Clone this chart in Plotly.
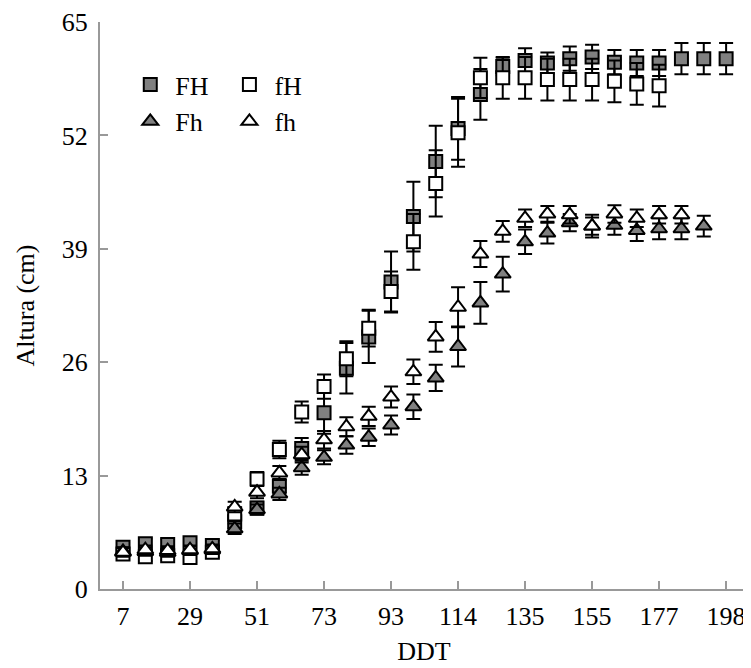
import plotly.graph_objects as go

# sample index along the DDT axis (28 sampling dates); ticks every third sample
sample_idx = list(range(28))
tick_idx = [0, 3, 6, 9, 12, 15, 18, 21, 24, 27]
ddt_ticks = ["7", "29", "51", "73", "93", "114", "135", "155", "177", "198"]

FH = [4.8, 5.2, 5.1, 5.3, 5.0, 7.7, 9.3, 11.8, 16.1, 20.2, 25.3, 28.9, 35.2, 42.7,
      49.0, 52.8, 56.7, 59.9, 60.6, 60.3, 60.8, 61.0, 60.4, 60.3, 60.3, 60.8, 60.8, 60.8]
FH_err = [0.6, 0.6, 0.6, 0.6, 0.6, 0.8, 0.7, 0.8, 1.2, 2.4, 2.9, 3.0, 3.5, 4.0,
          4.1, 3.6, 2.9, 1.0, 1.4, 1.2, 1.4, 1.4, 1.4, 1.5, 1.5, 1.8, 1.8, 1.8]

fH = [4.0, 3.7, 3.8, 3.6, 4.2, 8.6, 12.6, 16.0, 20.3, 23.2, 26.4, 29.9, 34.1, 39.8,
      46.5, 52.3, 58.6, 58.6, 58.6, 58.4, 58.4, 58.4, 58.2, 57.9, 57.7, None, None, None]
fH_err = [0.5, 0.5, 0.5, 0.5, 0.5, 0.8, 0.8, 1.0, 1.2, 1.4, 2.0, 2.1, 2.3, 3.2,
          3.8, 3.9, 2.3, 2.4, 2.4, 2.4, 2.4, 2.4, 2.4, 2.4, 2.4, None, None, None]

Fh = [4.3, 4.3, 4.2, 4.4, 4.5, 6.9, 9.1, 10.9, 13.9, 15.1, 16.5, 17.4, 18.8, 20.9,
      24.2, 27.8, 32.8, 36.1, 39.8, 40.8, 42.0, 41.6, 41.7, 41.1, 41.3, 41.3, 41.6, None]
Fh_err = [0.5, 0.5, 0.5, 0.5, 0.5, 0.6, 0.6, 0.7, 0.8, 0.8, 1.0, 1.0, 1.1, 1.4,
          1.5, 2.3, 2.4, 2.0, 1.4, 1.2, 1.0, 1.0, 1.1, 1.2, 1.2, 1.2, 1.2, None]

fh = [4.2, 4.5, 4.4, 4.5, 4.6, 9.4, 11.1, 13.3, 15.4, 17.1, 18.6, 19.8, 22.0, 24.9,
      28.9, 32.3, 38.4, 41.0, 42.5, 43.0, 42.9, 41.6, 43.0, 42.5, 42.9, 42.9, None, None]
fh_err = [0.5, 0.5, 0.5, 0.5, 0.5, 0.6, 0.7, 0.8, 0.9, 1.0, 1.1, 1.1, 1.2, 1.4,
          1.7, 2.3, 1.5, 1.2, 1.0, 0.9, 1.0, 1.3, 1.0, 1.0, 1.0, 1.0, None, None]

y_ticks = [0, 13, 26, 39, 52, 65]

GREY = "#808080"
AXIS_GREY = "#999999"
FONT = "Liberation Serif, Times New Roman, serif"
FSIZE = 26

series = [
    ("FH", FH, FH_err, "square", GREY, 13, "legend"),
    ("fH", fH, fH_err, "square", "white", 13, "legend2"),
    ("Fh", Fh, Fh_err, "triangle-up", GREY, 14, "legend"),
    ("fh", fh, fh_err, "triangle-up", "white", 14, "legend2"),
]

fig = go.Figure()
for name, vals, errs, sym, fill, size, leg in series:
    fig.add_trace(go.Scatter(
        x=sample_idx, y=vals, name=name, mode="markers",
        legend=leg,
        marker=dict(symbol=sym, size=size, color=fill,
                    line=dict(color="black", width=2)),
        error_y=dict(type="data", array=errs, visible=True,
                     color="black", thickness=2, width=7),
    ))

leg_common = dict(yanchor="top", xanchor="left", bgcolor="rgba(0,0,0,0)",
                  font=dict(family=FONT, size=FSIZE, color="black"),
                  itemsizing="trace", tracegroupgap=0, itemwidth=40)

# the page body has an 8px default margin, so the figure is 8px smaller
fig.update_layout(
    width=743, height=660,
    margin=dict(l=92, r=3, t=14, b=79),
    paper_bgcolor="white", plot_bgcolor="white",
    font=dict(family=FONT, size=FSIZE, color="black"),
    showlegend=True,
    legend=dict(x=0.039, y=0.931, **leg_common),
    legend2=dict(x=0.192, y=0.931, **leg_common),
    xaxis=dict(
        range=[-1.03, 27.98], tickmode="array", tickvals=tick_idx,
        ticktext=ddt_ticks, ticks="inside", ticklen=8, tickwidth=2,
        tickcolor=AXIS_GREY, showline=True, linecolor=AXIS_GREY, linewidth=2,
        showgrid=False, zeroline=False, automargin=False, ticklabelstandoff=3,
        title=dict(text="DDT", standoff=12, font=dict(family=FONT, size=FSIZE)),
        tickfont=dict(family=FONT, size=FSIZE),
    ),
    yaxis=dict(
        range=[0, 65], tickmode="array", tickvals=y_ticks,
        ticks="inside", ticklen=8, tickwidth=2, tickcolor=AXIS_GREY,
        showline=True, linecolor=AXIS_GREY, linewidth=2,
        showgrid=False, zeroline=False, automargin=False, ticklabelstandoff=5,
        title=dict(text="Altura (cm)", standoff=20, font=dict(family=FONT, size=FSIZE)),
        tickfont=dict(family=FONT, size=FSIZE),
    ),
)

fig.write_html("out.html")
